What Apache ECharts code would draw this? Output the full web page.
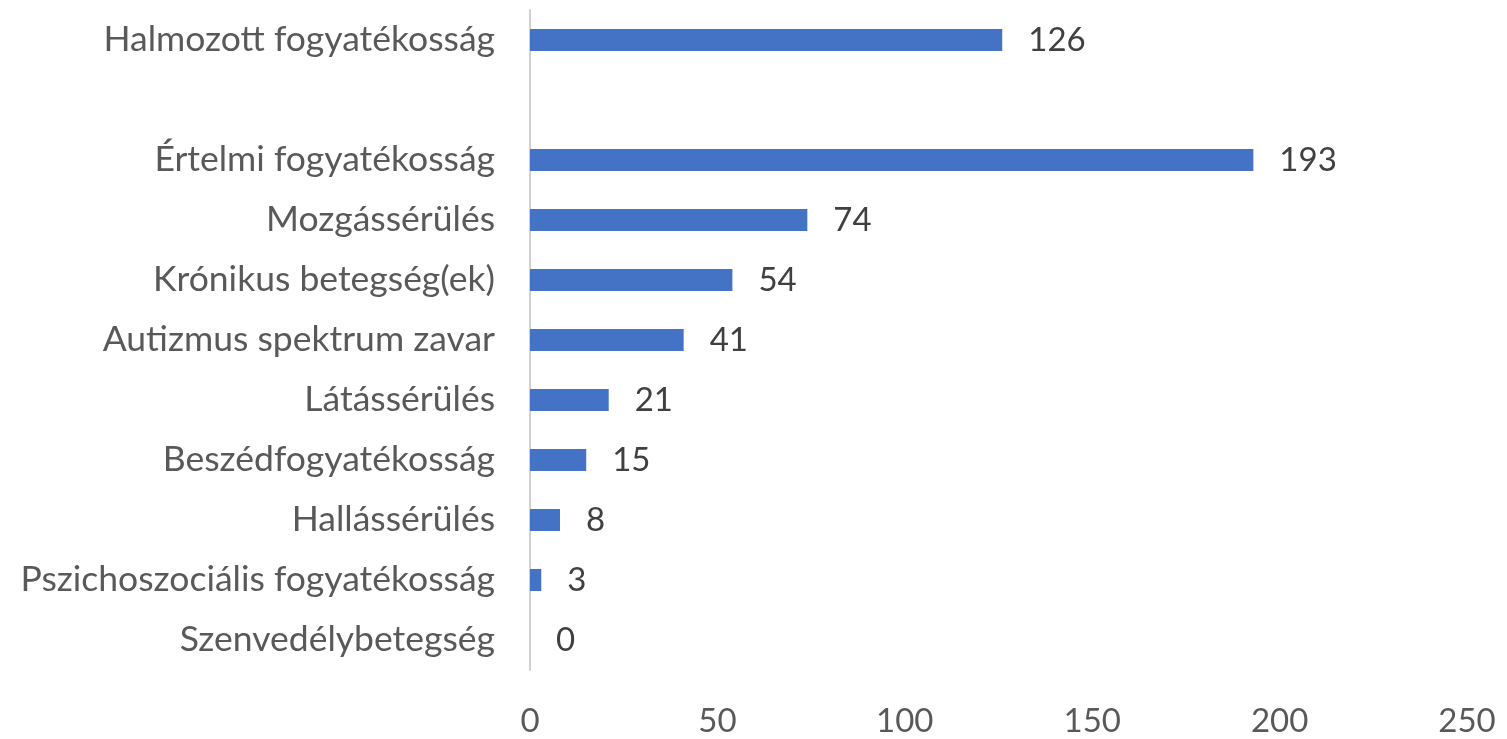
<!DOCTYPE html>
<html><head><meta charset="utf-8">
<script src="https://cdn.jsdelivr.net/npm/echarts@6/dist/echarts.min.js"></script>
<style>html,body{margin:0;padding:0;background:#fff}#c{width:1507px;height:739px}</style>
</head><body><div id="c"></div>
<script>
const categories = ['Szenvedélybetegség','Pszichoszociális fogyatékosság','Hallássérülés','Beszédfogyatékosság','Látássérülés','Autizmus spektrum zavar','Krónikus betegség(ek)','Mozgássérülés','Értelmi fogyatékosság','','Halmozott fogyatékosság'];
const values = [0,3,8,15,21,41,54,74,193,null,126];
const xTicks = [0,50,100,150,200,250];

const FONT = 'Lato, sans-serif';
const chart = echarts.init(document.getElementById('c'));
chart.setOption({
  animation:false,
  grid:{left:530,right:40,top:10,bottom:69,containLabel:false},
  xAxis:{type:'value',min:xTicks[0],max:xTicks[xTicks.length-1],interval:50,
    axisLine:{show:false},axisTick:{show:false},splitLine:{show:false},
    axisLabel:{color:'#595959',fontFamily:FONT,fontSize:33,margin:35}},
  yAxis:{type:'category',data:categories,
    axisLine:{show:true,lineStyle:{color:'#d0d0d0',width:2}},axisTick:{show:false},
    axisLabel:{color:'#595959',fontFamily:FONT,fontSize:35.5,margin:35}},
  series:[{type:'bar',data:values,barWidth:22,itemStyle:{color:'#4472C4'},
    label:{show:true,position:'right',distance:26,color:'#404040',fontFamily:FONT,fontSize:33}}]
});
</script></body></html>
